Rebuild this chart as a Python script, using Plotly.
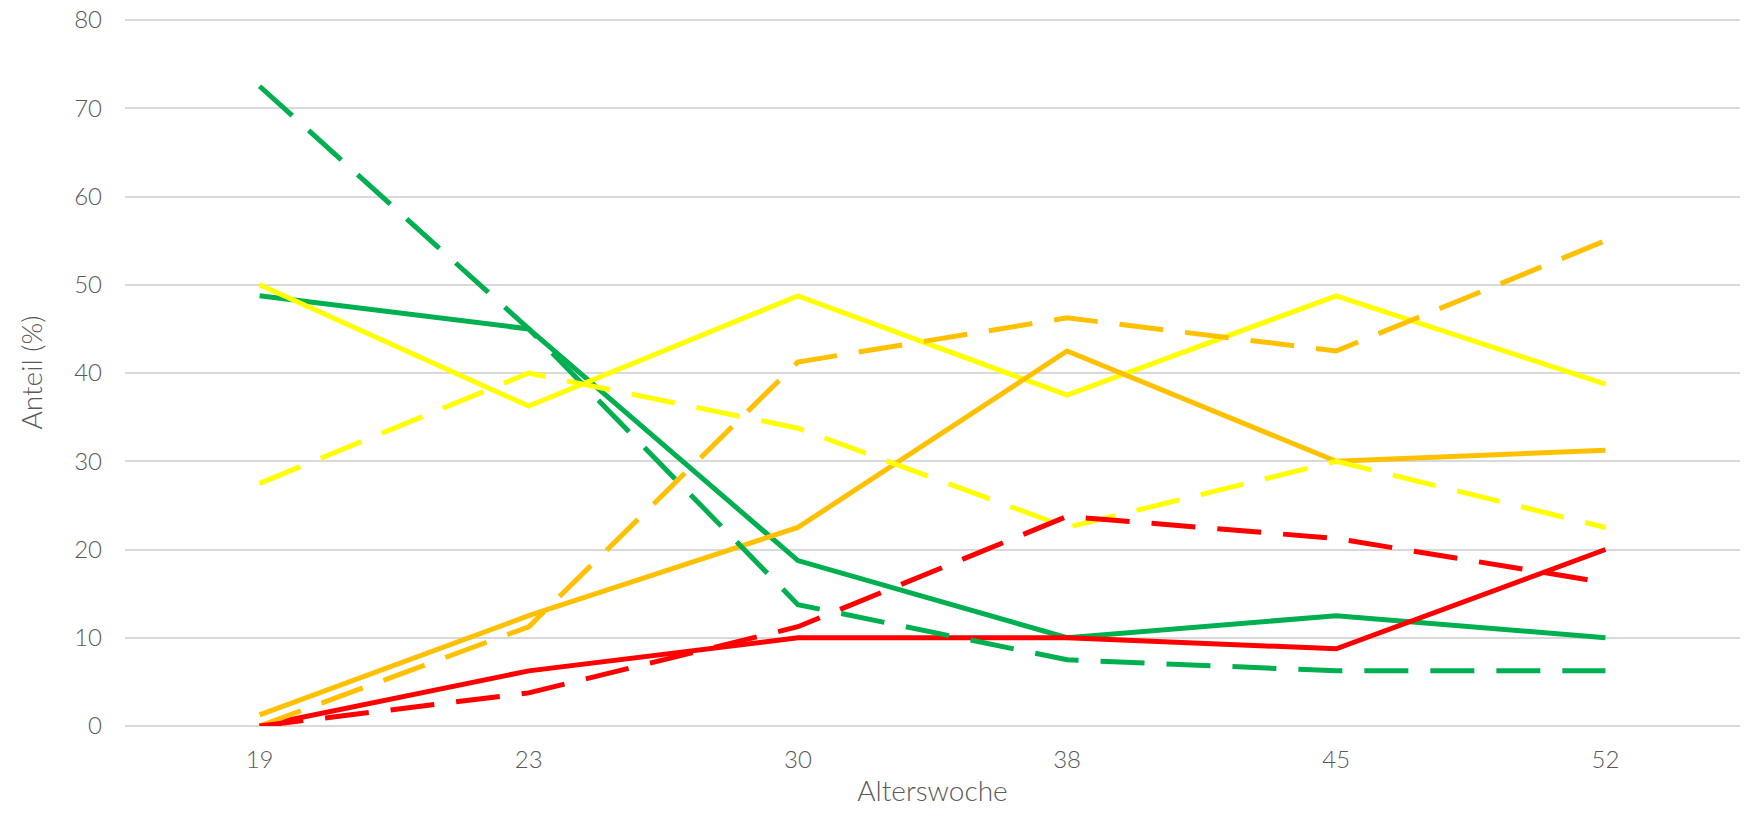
import plotly.graph_objects as go

wochen = ["19", "23", "30", "38", "45", "52"]

# durchgezogene Linien
gruen_a = [48.75, 45, 18.75, 10, 12.5, 10]
gelb_a = [50, 36.25, 48.75, 37.5, 48.75, 38.75]
orange_a = [1.25, 12.5, 22.5, 42.5, 30, 31.25]
rot_a = [0, 6.25, 10, 10, 8.75, 20]

# gestrichelte Linien
gruen_b = [72.5, 45, 13.75, 7.5, 6.25, 6.25]
gelb_b = [27.5, 40, 33.75, 22.5, 30, 22.5]
orange_b = [0, 11.25, 41.25, 46.25, 42.5, 55]
rot_b = [0, 3.75, 11.25, 23.75, 21.25, 16.25]

y_ticks = [0, 10, 20, 30, 40, 50, 60, 70, 80]

GREEN = "#00B050"
YELLOW = "#FFFF00"
ORANGE = "#FFC000"
RED = "#FF0000"
DASH = "44px,22px"
W = 5

series = [
    (gruen_a, GREEN, "solid"),
    (gelb_a, YELLOW, "solid"),
    (orange_a, ORANGE, "solid"),
    (rot_a, RED, "solid"),
    (gruen_b, GREEN, DASH),
    (gelb_b, YELLOW, DASH),
    (orange_b, ORANGE, DASH),
    (rot_b, RED, DASH),
]

fig = go.Figure()
for vals, col, dash in series:
    fig.add_trace(
        go.Scatter(
            x=wochen,
            y=vals,
            mode="lines",
            line=dict(color=col, width=W, dash=dash),
            showlegend=False,
        )
    )

tick_font = dict(family="Lato, sans-serif", size=24, color="#595959", weight=300)
title_font = dict(family="Lato, sans-serif", size=28, color="#595959", weight=300)

# page body has an 8px margin, so the figure is a bit smaller than the window
fig.update_layout(
    width=1732,
    height=799,
    margin=dict(l=117, r=0, t=11, b=81),
    plot_bgcolor="white",
    paper_bgcolor="white",
    font=tick_font,
    xaxis=dict(
        type="category",
        range=[-0.5, 5.5],
        automargin=False,
        showgrid=False,
        showline=False,
        zeroline=False,
        ticks="",
        tickfont=tick_font,
        ticklabelstandoff=17,
        title=dict(text="Alterswoche", standoff=14, font=title_font),
    ),
    yaxis=dict(
        range=[0, 80.12],
        tickvals=y_ticks,
        automargin=False,
        showgrid=True,
        gridcolor="#D9D9D9",
        gridwidth=1.5,
        zeroline=True,
        zerolinecolor="#D9D9D9",
        zerolinewidth=1.5,
        showline=False,
        ticks="",
        tickfont=tick_font,
        ticklabelstandoff=22,
        ticklabeloverflow="allow",
        title=dict(text="Anteil (%)", standoff=23, font=title_font),
    ),
)

fig.write_html("out.html")
